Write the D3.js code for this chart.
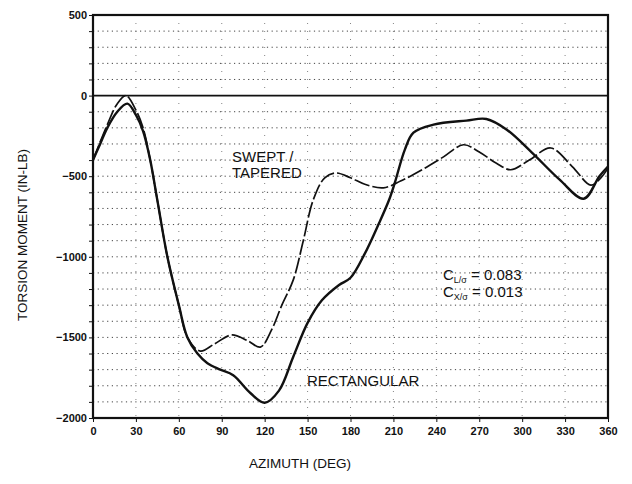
<!DOCTYPE html>
<html>
<head>
<meta charset="utf-8">
<script src="https://cdn.jsdelivr.net/npm/d3@7"></script>
<style>
  body { margin: 0; background: #fff; }
  svg text { font-family: "Liberation Sans", Arial, sans-serif; fill: #111; }
</style>
</head>
<body>
<div id="canvas"><svg width="632" height="484"></svg></div>
<script>
// azimuth (deg) and torsion moment (in-lb)
var rectAz  = [0, 5, 10, 17, 24, 30, 35, 40, 45, 52, 60, 66, 73, 80, 89, 98, 110, 120, 130, 140, 150, 160, 172, 180, 190, 200, 207, 211, 218, 224, 238, 261, 275, 289, 307, 326, 343, 354, 360];
var rectVal = [-400, -300, -200, -100, -50, -120, -220, -400, -650, -1000, -1300, -1500, -1600, -1660, -1700, -1735, -1845, -1905, -1830, -1620, -1410, -1270, -1175, -1130, -980, -790, -646, -540, -335, -230, -180, -155, -145, -210, -355, -520, -640, -500, -440];

var sweptAz  = [0, 10, 17, 23, 30, 35, 40, 45, 52, 60, 66, 75, 85, 97, 108, 117, 125, 132, 140, 147, 154, 162, 170, 180, 190, 203, 215, 230, 245, 259, 270, 282, 292, 305, 320, 335, 348, 355, 360];
var sweptVal = [-400, -180, -50, 0, -90, -200, -400, -650, -1000, -1300, -1500, -1585, -1540, -1485, -1520, -1560, -1450, -1300, -1143, -900, -646, -510, -480, -510, -550, -572, -530, -460, -380, -305, -350, -420, -460, -400, -325, -440, -555, -510, -450];

var xTicks = [0, 30, 60, 90, 120, 150, 180, 210, 240, 270, 300, 330, 360];
var yLabels = [500, 0, -500, -1000, -1500, -2000];

var svg = d3.select("#canvas svg");
var plotL = 93, plotR = 608, plotT = 15, plotB = 418;

var x = d3.scaleLinear().domain([0, 360]).range([plotL, plotR]);
var y = d3.scaleLinear().domain([-2000, 500]).range([plotB, plotT]);

var g = svg.append("g");

// dotted grid
var yGrid = d3.range(-1900, 500, 100).filter(function (v) { return v != 0; });
g.append("g").selectAll("line").data(yGrid).enter().append("line")
  .attr("x1", plotL).attr("x2", plotR)
  .attr("y1", function (d) { return y(d); }).attr("y2", function (d) { return y(d); })
  .attr("stroke", "#444").attr("stroke-width", 1)
  .attr("stroke-dasharray", "1.2,3.5");

g.append("g").selectAll("line").data(xTicks.slice(1, -1)).enter().append("line")
  .attr("x1", function (d) { return x(d); }).attr("x2", function (d) { return x(d); })
  .attr("y1", plotT).attr("y2", plotB)
  .attr("stroke", "#666").attr("stroke-width", 0.8)
  .attr("stroke-dasharray", "1,7");

// zero line
g.append("line")
  .attr("x1", plotL).attr("x2", plotR).attr("y1", y(0)).attr("y2", y(0))
  .attr("stroke", "#111").attr("stroke-width", 1.6);

// axes
var yAxis = d3.axisLeft(y)
  .tickValues(d3.range(-2000, 501, 100))
  .tickSize(4)
  .tickFormat(function (d) { return yLabels.indexOf(d) >= 0 ? d3.format("")(d).replace("-", "\u2212") : ""; });

var ya = g.append("g").attr("transform", "translate(" + plotL + ",0)").call(yAxis);
ya.select(".domain").remove();
ya.selectAll("text").attr("font-size", 11).attr("font-weight", "bold").attr("x", -6);
ya.selectAll("line").attr("stroke", "#111");

var xAxis = d3.axisBottom(x).tickValues(xTicks).tickSize(4).tickFormat(d3.format("d"));
var xa = g.append("g").attr("transform", "translate(0," + plotB + ")").call(xAxis);
xa.select(".domain").remove();
xa.selectAll("text").attr("font-size", 11).attr("font-weight", "bold").attr("dy", "0.95em");
xa.selectAll("line").attr("stroke", "#111");

// frame
g.append("rect")
  .attr("x", plotL).attr("y", plotT).attr("width", plotR - plotL).attr("height", plotB - plotT)
  .attr("fill", "none").attr("stroke", "#111").attr("stroke-width", 2.2);

// curves
var line = d3.line()
  .x(function (d) { return x(d[0]); })
  .y(function (d) { return y(d[1]); })
  .curve(d3.curveCatmullRom.alpha(0.5));

g.append("path")
  .datum(d3.zip(sweptAz, sweptVal))
  .attr("d", line)
  .attr("fill", "none").attr("stroke", "#111").attr("stroke-width", 1.7)
  .attr("stroke-dasharray", "16,3");

g.append("path")
  .datum(d3.zip(rectAz, rectVal))
  .attr("d", line)
  .attr("fill", "none").attr("stroke", "#111").attr("stroke-width", 2.4);

// labels
g.append("text").attr("x", 232).attr("y", 162).attr("font-size", 15).text("SWEPT /");
g.append("text").attr("x", 232).attr("y", 178).attr("font-size", 15).text("TAPERED");
g.append("text").attr("x", 307).attr("y", 386).attr("font-size", 15).text("RECTANGULAR");

var c1 = g.append("text").attr("x", 443).attr("y", 280).attr("font-size", 15);
c1.append("tspan").text("C");
c1.append("tspan").attr("font-size", 9).attr("dy", 3).text("L/\u03c3");
c1.append("tspan").attr("dy", -3).text(" = 0.083");

var c2 = g.append("text").attr("x", 443).attr("y", 297).attr("font-size", 15);
c2.append("tspan").text("C");
c2.append("tspan").attr("font-size", 9).attr("dy", 3).text("X/\u03c3");
c2.append("tspan").attr("dy", -3).text(" = 0.013");

// axis titles
svg.append("text")
  .attr("transform", "translate(27,235) rotate(-90)")
  .attr("text-anchor", "middle").attr("font-size", 13.5)
  .text("TORSION MOMENT (IN-LB)");

svg.append("text")
  .attr("x", 300).attr("y", 468)
  .attr("text-anchor", "middle").attr("font-size", 13.5)
  .text("AZIMUTH (DEG)");
</script>
</body>
</html>
